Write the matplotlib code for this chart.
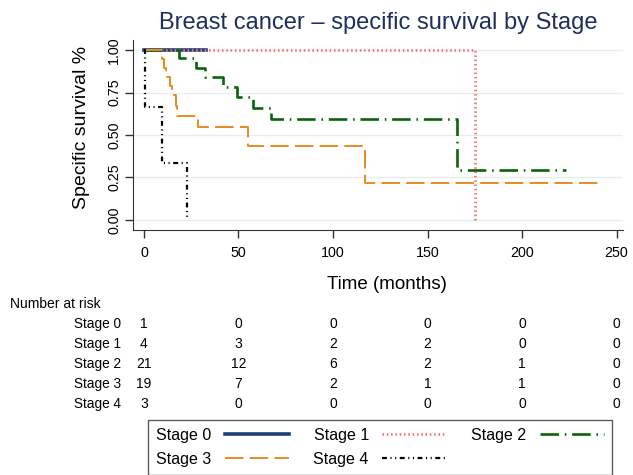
import matplotlib.pyplot as plt
import matplotlib.transforms as mtransforms

plt.rcParams['font.family'] = ['Liberation Sans', 'DejaVu Sans']

# Kaplan-Meier steps (months, survival)
stage0_t = [0, 33]
stage0_s = [1.0, 1.0]
stage1_t = [0, 175]
stage1_s = [1.0, 0.0]
stage2_t = [0, 18.5, 27.7, 32.5, 42, 49.4, 57.9, 67, 165.8, 223]
stage2_s = [1.0, 0.951, 0.896, 0.84, 0.782, 0.722, 0.66, 0.596, 0.294, 0.294]
stage3_t = [0, 9.7, 10.6, 11.5, 13.9, 15.0, 16.7, 17.6, 28.8, 55, 117, 243]
stage3_s = [1.0, 0.947, 0.895, 0.842, 0.789, 0.737, 0.672, 0.614, 0.545, 0.436, 0.218, 0.218]
stage4_t = [0, 0.7, 9.7, 22.9]
stage4_s = [1.0, 0.667, 0.333, 0.0]

stages = ['Stage 0', 'Stage 1', 'Stage 2', 'Stage 3', 'Stage 4']
risk_times = [0, 50, 100, 150, 200, 250]
at_risk = [
    [1, 0, 0, 0, 0, 0],
    [4, 3, 2, 2, 0, 0],
    [21, 12, 6, 2, 1, 0],
    [19, 7, 2, 1, 1, 0],
    [3, 0, 0, 0, 0, 0],
]

fig = plt.figure(figsize=(6.33, 4.75), dpi=100)
ax = fig.add_axes([133 / 633, 1 - 230 / 475, 490 / 633, 190 / 475])

l0, = ax.step(stage0_t, stage0_s, where='post', color='#1c3f74', lw=2.6)
l1, = ax.step(stage1_t, stage1_s, where='post', color='#f47676', lw=2.0,
              linestyle=(0, (0.55, 1.0)))
l2, = ax.step(stage2_t, stage2_s, where='post', color='#0a640a', lw=1.9,
              linestyle=(0, (7, 2.2, 0.6, 2.2)))
l3, = ax.step(stage3_t, stage3_s, where='post', color='#ea8a1e', lw=1.4,
              linestyle=(0, (9.5, 3.2)))
l4, = ax.step(stage4_t, stage4_s, where='post', color='black', lw=1.6,
              linestyle=(0, (2.2, 1.6, 0.5, 1.6, 0.5, 1.6)))

ax.set_xlim(-5.8, 253.4)
ax.set_ylim(-0.059, 1.059)
ax.set_xticks(risk_times)
ax.set_yticks([0, 0.25, 0.5, 0.75, 1.0])
ax.set_yticklabels(['0.00', '0.25', '0.50', '0.75', '1.00'], rotation=90, va='center')
ax.tick_params(labelsize=10.3, length=5.5, width=1, color='#333333')
ax.tick_params(axis='x', pad=6)
ax.tick_params(axis='y', pad=3)
ax.grid(axis='y', color='#e6edf1', lw=1)
ax.set_axisbelow(True)
for side in ['top', 'right']:
    ax.spines[side].set_visible(False)
for side in ['left', 'bottom']:
    ax.spines[side].set_color('#333333')

ax.set_xlabel('Time (months)', fontsize=13.5)
ax.xaxis.set_label_coords(0.519, -0.242)
ax.set_ylabel('Specific survival %', fontsize=14)
ax.yaxis.set_label_coords(-0.088, 0.542)
ax.set_title('Breast cancer \u2013 specific survival by Stage', fontsize=17,
             color='#1e2f5c', pad=8)

# number-at-risk table under the axis
trans = mtransforms.blended_transform_factory(ax.transData, fig.transFigure)
fig.text(10 / 633, 1 - 304 / 475, 'Number at risk', fontsize=10, va='center')
for i, name in enumerate(stages):
    y = 1 - (324 + 20 * i) / 475
    fig.text(121 / 633, y, name, fontsize=9.8, ha='right', va='center')
    for t, n in zip(risk_times, at_risk[i]):
        ax.text(t, y, str(n), transform=trans, fontsize=10, ha='center', va='center')

# legend filled column by column, so order gives rows S0 S1 S2 / S3 S4
handles = [l0, l3, l1, l4, l2]
labels = ['Stage 0', 'Stage 3', 'Stage 1', 'Stage 4', 'Stage 2']
fig.legend(handles, labels, loc='upper left', bbox_to_anchor=(148 / 633, 1 - 420 / 475),
           borderaxespad=0, ncol=3, markerfirst=False, fontsize=11.5, handlelength=4.0,
           handletextpad=0.85, columnspacing=1.55, frameon=True, fancybox=False,
           edgecolor='#333333', borderpad=0.5, labelspacing=0.55)

fig.savefig('out.png', dpi=100)
